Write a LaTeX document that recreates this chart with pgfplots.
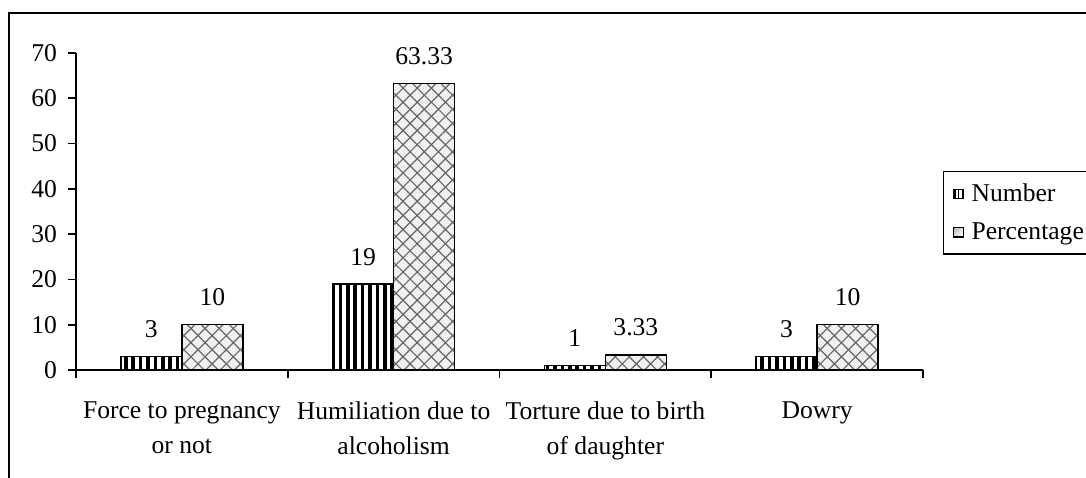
\documentclass[border=0pt]{standalone}
\usepackage{fontspec}
\setmainfont{Liberation Serif}
\usepackage{pgfplots}
\pgfplotsset{compat=1.18}
\usetikzlibrary{patterns.meta}
\newcommand{\cf}{\fontsize{12.8}{17.5}\selectfont}
\begin{document}
\begin{tikzpicture}
\useasboundingbox (0,0) rectangle (543pt,238.5pt);
\draw[line width=0.9pt] (4.5pt,-20pt) -- (4.5pt,232pt) -- (580pt,232pt);
\begin{axis}[
  at={(38pt,53.5pt)}, anchor=south west,
  scale only axis, width=423.5pt, height=158.5pt,
  xmin=-0.5, xmax=3.5, ymin=0, ymax=70,
  axis lines=left, axis line style={-, line width=0.8pt},
  tick align=outside, major tick length=4pt,
  tick style={black, line width=0.8pt},
  ytick={0,10,...,70},
  xtick={-0.5,0.5,1.5,2.5,3.5}, xticklabels={},
  extra x ticks={0,1,2,3},
  extra x tick style={major tick length=0pt, tick style={draw=none}},
  extra x tick labels={Force to pregnancy\\or not, Humiliation due to\\alcoholism, Torture due to birth\\of daughter, Dowry},
  xticklabel style={font=\cf, align=center, anchor=north, yshift=-12.5pt},
  yticklabel style={font=\cf, xshift=-2pt},
  /pgf/number format/assume math mode=true,
  ybar, bar width=30.5pt,
  nodes near coords, point meta=explicit symbolic,
  every node near coord/.append style={font=\cf, anchor=south, inner sep=0pt, yshift=9pt},
  legend style={at={(1.0236,0.628)}, anchor=north west, draw=black, line width=0.6pt,
    font=\cf, inner xsep=4pt, inner ysep=4pt, row sep=5pt, cells={anchor=west}},
]
\addplot[forget plot, bar shift=-15.25pt, draw=black, line width=0.7pt, fill=white,
  pattern={Lines[angle=90,distance=3.7pt,line width=1.8pt]}, pattern color=black]
  coordinates {(0,3) [3] (1,19) [19] (2,1) [1] (3,3) [3]};
\addplot[forget plot, bar shift=15.25pt, draw=black, line width=0.7pt, fill=gray!12,
  postaction={pattern={Lines[angle=45,distance=5pt,line width=0.6pt]}, pattern color=black!60},
  postaction={pattern={Lines[angle=-45,distance=5pt,line width=0.6pt]}, pattern color=black!60}]
  coordinates {(0,10) [10] (1,63.33) [63.33] (2,3.33) [3.33] (3,10) [10]};
\addlegendimage{legend image code/.code={\path[draw=none,fill=none] (0pt,0pt) -- (8pt,0pt);
    \fill[black] (1pt,-2.4pt) rectangle (5.8pt,2.4pt);
    \fill[white] (2.6pt,-1.8pt) rectangle (3.1pt,1.8pt);
    \fill[white] (4.2pt,-1.8pt) rectangle (4.7pt,1.8pt);}}
\addlegendentry{Number}
\addlegendimage{legend image code/.code={\path[draw=none,fill=none] (0pt,0pt) -- (8pt,0pt);
    \shade[top color=gray!50, bottom color=white, shading angle=45] (1pt,-2.4pt) rectangle (5.8pt,2.4pt);
    \draw[black, line width=0.6pt] (1pt,-2.4pt) rectangle (5.8pt,2.4pt);}}
\addlegendentry{Percentage}
\end{axis}
\end{tikzpicture}
\end{document}
